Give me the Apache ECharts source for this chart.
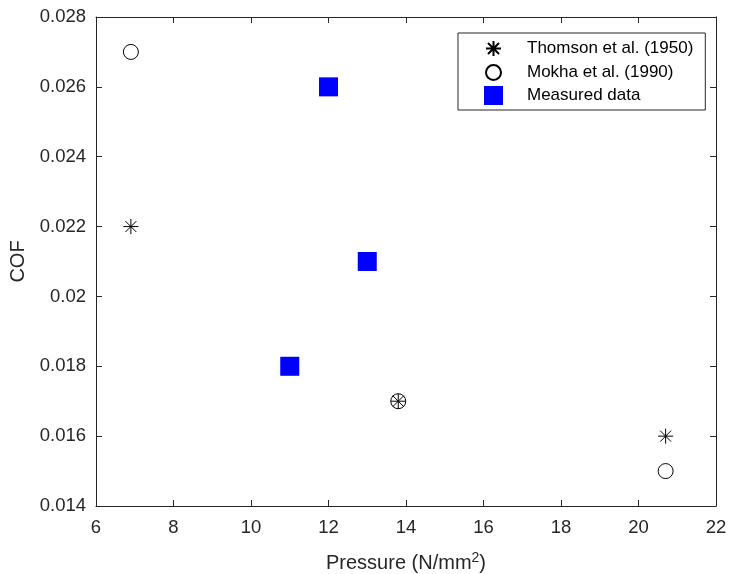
<!DOCTYPE html>
<html>
<head>
<meta charset="utf-8">
<script src="https://cdn.jsdelivr.net/npm/echarts@6/dist/echarts.min.js"></script>
<style>
  html, body { margin: 0; padding: 0; background: #fff; }
  #chart { width: 730px; height: 574px; }
</style>
</head>
<body>
<div id="chart"></div>
<script>
'use strict';
// values
var thomsonX = [6.9, 13.8, 20.7];
var thomsonY = [0.022, 0.017, 0.016];
var mokhaX = [6.9, 13.8, 20.7];
var mokhaY = [0.027, 0.017, 0.015];
var measuredX = [11, 12, 13];
var measuredY = [0.018, 0.026, 0.021];
var seriesNames = ['Thomson et al. (1950)', 'Mokha et al. (1990)', 'Measured data'];

function pairs(xs, ys) {
    return xs.map(function (x, i) { return [x, ys[i]]; });
}

// padded paths so that all marks share one symbol box
var starPath = 'path://M-9.5,-9.5M9.5,9.5M0,-7.5L0,7.5M-7.5,0L7.5,0M-5.5,-5.5L5.5,5.5M-5.5,5.5L5.5,-5.5';
var ringPath = 'path://M-9.5,-9.5M9.5,9.5M7.5,0A7.5,7.5 0 1 1 -7.5,0A7.5,7.5 0 1 1 7.5,0Z';
var squarePath = 'path://M-9.5,-9.5L9.5,-9.5L9.5,9.5L-9.5,9.5Z';

var axisColor = '#262626';
var font = 'Liberation Sans, Arial, sans-serif';

var chart = echarts.init(document.getElementById('chart'));
chart.setOption({
    animation: false,
    textStyle: {fontFamily: font},
    grid: {left: 96, right: 14, top: 17, bottom: 68, outerBoundsMode: 'none'},
    legend: {
        orient: 'vertical',
        left: 458,
        top: 33,
        padding: [5, 12, 5, 25],
        itemGap: 3,
        itemWidth: 19,
        itemHeight: 19,
        borderColor: axisColor,
        borderWidth: 1,
        backgroundColor: '#fff',
        textStyle: {fontSize: 17, color: '#000', fontFamily: font, padding: [0, 0, 0, 19]},
        data: seriesNames
    },
    xAxis: [{
        type: 'value', min: 6, max: 22, interval: 2,
        name: '{a|Pressure (N/mm}{s|2}{a|)}',
        nameLocation: 'middle', nameGap: 45,
        nameTextStyle: {
            rich: {
                a: {fontSize: 20, color: axisColor, fontFamily: font},
                s: {fontSize: 14, color: axisColor, fontFamily: font, verticalAlign: 'top', padding: [0, 0, 10, 0]}
            }
        },
        axisLine: {onZero: false, lineStyle: {color: axisColor}},
        axisTick: {inside: true, length: 6, lineStyle: {color: axisColor}},
        axisLabel: {fontSize: 18.5, color: axisColor, margin: 12},
        splitLine: {show: false}
    }, {
        type: 'value', min: 6, max: 22, interval: 2, position: 'top',
        axisLine: {onZero: false, lineStyle: {color: axisColor}},
        axisTick: {inside: true, length: 6, lineStyle: {color: axisColor}},
        axisLabel: {show: false},
        splitLine: {show: false}
    }],
    yAxis: [{
        type: 'value', min: 0.014, max: 0.028, interval: 0.002,
        name: 'COF', nameLocation: 'middle', nameGap: 58,
        nameTextStyle: {fontSize: 20, color: axisColor, fontFamily: font},
        axisLine: {show: true, onZero: false, lineStyle: {color: axisColor}},
        axisTick: {show: true, inside: true, length: 6, lineStyle: {color: axisColor}},
        axisLabel: {
            fontSize: 18.5, color: axisColor, margin: 10,
            formatter: function (v) { return String(+v.toFixed(3)); }
        },
        splitLine: {show: false}
    }, {
        type: 'value', min: 0.014, max: 0.028, interval: 0.002, position: 'right',
        axisLine: {show: true, onZero: false, lineStyle: {color: axisColor}},
        axisTick: {show: true, inside: true, length: 6, lineStyle: {color: axisColor}},
        axisLabel: {show: false},
        splitLine: {show: false}
    }],
    series: [{
        name: seriesNames[0],
        type: 'scatter',
        symbol: starPath,
        symbolSize: 19,
        itemStyle: {color: 'rgba(0,0,0,0)', borderColor: '#000', borderWidth: 1, opacity: 1},
        emphasis: {disabled: true},
        data: pairs(thomsonX, thomsonY)
    }, {
        name: seriesNames[1],
        type: 'scatter',
        symbol: ringPath,
        symbolSize: 19,
        itemStyle: {color: 'rgba(0,0,0,0)', borderColor: '#000', borderWidth: 1, opacity: 1},
        emphasis: {disabled: true},
        data: pairs(mokhaX, mokhaY)
    }, {
        name: seriesNames[2],
        type: 'scatter',
        symbol: squarePath,
        symbolSize: 19,
        itemStyle: {color: '#0000ff', borderWidth: 0, opacity: 1},
        emphasis: {disabled: true},
        data: pairs(measuredX, measuredY)
    }]
});
</script>
</body>
</html>
